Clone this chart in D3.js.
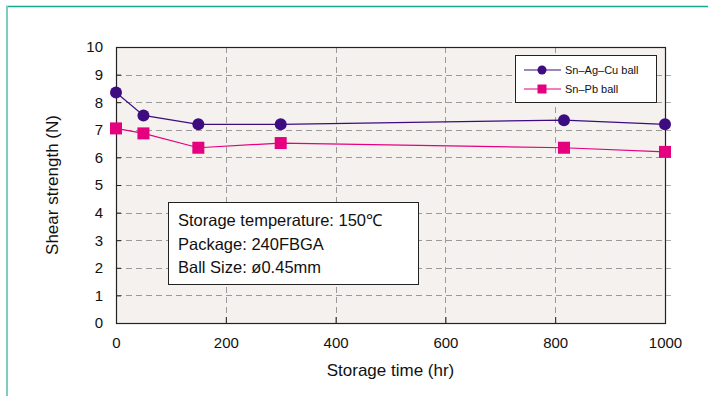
<!DOCTYPE html>
<html>
<head>
<meta charset="utf-8">
<script src="https://cdn.jsdelivr.net/npm/d3@7"></script>
<style>
  body { margin: 0; background: #fff; }
  svg { display: block; font-family: "Liberation Sans", Arial, sans-serif; }
</style>
</head>
<body>
<svg id="chart"></svg>
<script>
// data
const times = [0, 50, 150, 300, 816, 1000];
const snAgCu = [8.35, 7.52, 7.2, 7.2, 7.35, 7.2];
const snPb = [7.05, 6.87, 6.35, 6.52, 6.35, 6.2];
const seriesNames = ["Sn\u2013Ag\u2013Cu ball", "Sn\u2013Pb ball"];
const xTicks = [0, 200, 400, 600, 800, 1000];
const yTicks = [0, 1, 2, 3, 4, 5, 6, 7, 8, 9, 10];
const noteLines = ["Storage temperature: 150\u2103", "Package: 240FBGA", "Ball Size: \u00f80.45mm"];

const width = 708, height = 396;
const margin = { top: 47, right: 43, bottom: 73, left: 116 };

const svg = d3.select("#chart").attr("width", width).attr("height", height);

// teal frame on top and left
svg.append("line").attr("x1", 6).attr("x2", width).attr("y1", 6.5).attr("y2", 6.5)
    .attr("stroke", "#14a88c").attr("stroke-width", 1.5);
svg.append("line").attr("x1", 7).attr("x2", 7).attr("y1", 6).attr("y2", height)
    .attr("stroke", "#7fcdbf").attr("stroke-width", 2);

const x = d3.scaleLinear().domain([0, 1000]).range([margin.left, width - margin.right]);
const y = d3.scaleLinear().domain([0, 10]).range([height - margin.bottom, margin.top]);

// plot background
svg.append("rect")
    .attr("x", x(0)).attr("y", y(10))
    .attr("width", x(1000) - x(0)).attr("height", y(0) - y(10))
    .attr("fill", "#f4f1ee");

// grid
const grid = svg.append("g").attr("stroke", "#9a9a9a").attr("stroke-dasharray", "6,4");
grid.selectAll(".gy").data(yTicks.slice(1, -1)).enter().append("line")
    .attr("x1", x(0)).attr("x2", x(1000))
    .attr("y1", d => Math.round(y(d)) + 0.5).attr("y2", d => Math.round(y(d)) + 0.5);
grid.selectAll(".gx").data(xTicks.slice(1, -1)).enter().append("line")
    .attr("y1", y(10)).attr("y2", y(0))
    .attr("x1", d => Math.round(x(d)) + 0.5).attr("x2", d => Math.round(x(d)) + 0.5);

// axes
const axisLeft = d3.axisLeft(y).tickValues(yTicks).tickSize(-5).tickPadding(13);
const axisBottom = d3.axisBottom(x).tickValues(xTicks).tickSize(-6).tickPadding(14)
    .tickFormat(d3.format("d"));

const gy = svg.append("g").attr("transform", `translate(${x(0)},0)`).call(axisLeft);
const gx = svg.append("g").attr("transform", `translate(0,${y(0)})`).call(axisBottom);
[gx, gy].forEach(g => {
    g.select(".domain").remove();
    g.selectAll("text").attr("font-size", "15px").attr("fill", "#111")
        .attr("font-family", "\"Liberation Sans\", Arial, sans-serif");
    g.selectAll("line").attr("stroke", "#222");
});

// top and right tick marks (grey)
svg.append("g").selectAll("line").data(xTicks.slice(1, -1)).enter().append("line")
    .attr("x1", d => Math.round(x(d)) + 0.5).attr("x2", d => Math.round(x(d)) + 0.5)
    .attr("y1", y(10)).attr("y2", y(10) + 5).attr("stroke", "#999");
svg.append("g").selectAll("line").data(yTicks.slice(1, -1)).enter().append("line")
    .attr("x1", x(1000)).attr("x2", x(1000) + 6)
    .attr("y1", d => Math.round(y(d)) + 0.5).attr("y2", d => Math.round(y(d)) + 0.5)
    .attr("stroke", "#aaa");

// plot frame
svg.append("rect")
    .attr("x", x(0) + 0.5).attr("y", y(10) + 0.5)
    .attr("width", x(1000) - x(0)).attr("height", y(0) - y(10))
    .attr("fill", "none").attr("stroke", "#222").attr("stroke-width", 1.2);

// axis titles
svg.append("text").attr("x", (x(0) + x(1000)) / 2).attr("y", 376)
    .attr("text-anchor", "middle").attr("font-size", "17px").attr("fill", "#111")
    .text("Storage time (hr)");
svg.append("text").attr("transform", `translate(58,${(y(0) + y(10)) / 2}) rotate(-90)`)
    .attr("text-anchor", "middle").attr("font-size", "17px").attr("fill", "#111")
    .text("Shear strength (N)");

// series
const colors = ["#3d0c80", "#e4007f"];
const line = d3.line().x(d => x(d[0])).y(d => y(d[1]));
const series = [snAgCu, snPb].map(vals => times.map((t, i) => [t, vals[i]]));

series.forEach((pts, si) => {
    svg.append("path").datum(pts).attr("d", line)
        .attr("fill", "none").attr("stroke", colors[si]).attr("stroke-width", 1.2);
});
svg.append("g").selectAll("circle").data(series[0]).enter().append("circle")
    .attr("cx", d => x(d[0])).attr("cy", d => y(d[1])).attr("r", 6)
    .attr("fill", colors[0]);
svg.append("g").selectAll("rect").data(series[1]).enter().append("rect")
    .attr("x", d => x(d[0]) - 6).attr("y", d => y(d[1]) - 6)
    .attr("width", 12).attr("height", 12).attr("fill", colors[1]);

// legend
const legend = svg.append("g").attr("transform", "translate(515,55)");
legend.append("rect").attr("x", 0.5).attr("y", 0.5).attr("width", 141).attr("height", 47)
    .attr("fill", "#fff").attr("stroke", "#222");
seriesNames.forEach((name, i) => {
    const ly = 15 + i * 19;
    legend.append("line").attr("x1", 9).attr("x2", 46).attr("y1", ly).attr("y2", ly)
        .attr("stroke", colors[i]).attr("stroke-width", 1.2);
    if (i === 0) {
        legend.append("circle").attr("cx", 27).attr("cy", ly).attr("r", 4.5).attr("fill", colors[i]);
    } else {
        legend.append("rect").attr("x", 22.5).attr("y", ly - 4.5).attr("width", 9).attr("height", 9)
            .attr("fill", colors[i]);
    }
    legend.append("text").attr("x", 50).attr("y", ly + 4).attr("font-size", "11px")
        .attr("fill", "#111").text(name);
});

// note box
const note = svg.append("g").attr("transform", "translate(168,202)");
note.append("rect").attr("x", 0.5).attr("y", 0.5).attr("width", 250).attr("height", 82)
    .attr("fill", "#fff").attr("stroke", "#222");
noteLines.forEach((t, i) => {
    note.append("text").attr("x", 10).attr("y", 24 + i * 23.5)
        .attr("font-size", "16.5px").attr("fill", "#111").text(t);
});
</script>
</body>
</html>
